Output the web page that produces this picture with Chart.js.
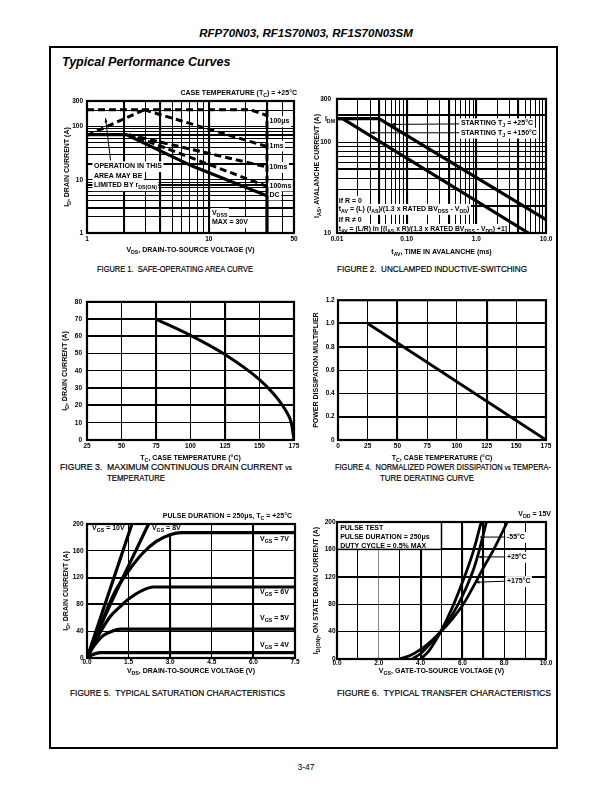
<!DOCTYPE html>
<html>
<head>
<meta charset="utf-8">
<script src="https://cdn.jsdelivr.net/npm/chart.js@4.4.1/dist/chart.umd.min.js"></script>
<style>
body { margin: 0; width: 612px; height: 792px; background: #fff; position: relative; font-family: "Liberation Sans", Arial, sans-serif; color: #000; }
.abs { position: absolute; white-space: nowrap; }
canvas { position: absolute; }
#frame { left: 49px; top: 46px; width: 509px; height: 703px; border: 2.5px solid #000; box-sizing: border-box; }
#head { left: 0; width: 612px; top: 27px; text-align: center; font: italic bold 11.5px "Liberation Sans", Arial, sans-serif; }
#sub { left: 62px; top: 55px; font: italic bold 12.5px "Liberation Sans", Arial, sans-serif; }
#page { left: 0; width: 612px; top: 762px; text-align: center; font-size: 8.5px; }
.cap { font-size: 9.5px; transform-origin: 0 50%; -webkit-text-stroke: 0.2px #000; }
</style>
</head>
<body>
<div id="frame" class="abs"></div>
<div id="head" class="abs">RFP70N03, RF1S70N03, RF1S70N03SM</div>
<div id="sub" class="abs">Typical Performance Curves</div>
<div class="abs cap" data-w="156" style="left:97px;top:263px">FIGURE 1.&nbsp; SAFE-OPERATING AREA CURVE</div>
<div class="abs cap" data-w="190" style="left:337px;top:263px">FIGURE 2.&nbsp; UNCLAMPED INDUCTIVE-SWITCHING</div>
<div class="abs cap" data-w="232" style="left:60px;top:461px">FIGURE 3.&nbsp; MAXIMUM CONTINUOUS DRAIN CURRENT <span style="font-size:7.5px">vs</span></div>
<div class="abs cap" data-w="58" style="left:107px;top:472px">TEMPERATURE</div>
<div class="abs cap" data-w="216" style="left:335px;top:461px">FIGURE 4.&nbsp; NORMALIZED POWER DISSIPATION <span style="font-size:7.5px">vs</span> TEMPERA-</div>
<div class="abs cap" data-w="94" style="left:380px;top:472px">TURE DERATING CURVE</div>
<div class="abs cap" data-w="215" style="left:70px;top:687px">FIGURE 5.&nbsp; TYPICAL SATURATION CHARACTERISTICS</div>
<div class="abs cap" data-w="214" style="left:337px;top:687px">FIGURE 6.&nbsp; TYPICAL TRANSFER CHARACTERISTICS</div>
<div id="page" class="abs">3-47</div>

<script>
// ---- Figure 1: safe operating area (log-log) ----
const soaLimitV = [1, 22, 30];
const soaLimitI = [205, 205, 160];
const soaRdsV = [1, 2.95];
const soaRdsI = [68, 205];
const soa1msV = [2.95, 30];
const soa1msI = [205, 42];
const soa10msV = [2.2, 30];
const soa10msI = [70, 17.3];
const soa100msV = [2.6, 30];
const soa100msI = [62, 7.5];
const soaDcV = [1, 2.1, 7.3, 30, 30];
const soaDcI = [70, 70, 18, 5, 1];
const soaVdssV = [30, 30];
const soaVdssI = [205, 5];
const soaXLabelVals = [1, 10, 50];
const soaYLabelVals = [1, 10, 100, 300];

// ---- Figure 2: unclamped inductive switching ----
const uis25T = [0.01, 0.04, 10];
const uis25I = [182, 182, 14];
const uis150T = [0.01, 0.012, 5.6];
const uis150I = [182, 182, 10];
const uisXLabelVals = [0.01, 0.1, 1, 10];
const uisXLabelText = ['0.01', '0.10', '1.0', '10.0'];
const uisYLabelVals = [10, 100, 300];

// ---- Figure 3: max continuous drain current vs Tc ----
const idTemp = [75, 100, 125, 150, 160, 165, 170, 173, 175];
const idMax = [70, 60.6, 49.5, 35, 27, 22, 15.7, 10, 0];

// ---- Figure 4: power derating ----
const pdTemp = [25, 175];
const pdMult = [1.0, 0];

// ---- Figure 5: saturation characteristics ----
const satV10 = [0, 1.62];
const satI10 = [0, 200];
const satV8 = [0, 0.6, 1.2, 1.7, 2.22];
const satI8 = [0, 58, 112, 155, 200];
const satV7 = [0, 0.5, 1.0, 1.5, 2.0, 2.5, 3.0, 3.4, 7.5];
const satI7 = [0, 50, 98, 130, 156, 174, 184, 187, 187];
const satV6 = [0, 0.5, 0.86, 1.2, 1.5, 2.0, 2.4, 7.5];
const satI6 = [0, 40, 63, 77, 88, 101, 106, 106];
const satV5 = [0, 0.2, 0.4, 0.6, 0.9, 1.2, 7.5];
const satI5 = [0, 15, 26, 34, 40, 43, 43];
const satV4 = [0, 0.15, 0.3, 0.5, 7.5];
const satI4 = [0, 4, 6.5, 8, 8];

// ---- Figure 6: transfer characteristics ----
const trV55 = [4.0, 4.4, 4.7, 5.0, 5.5, 6.0, 6.5, 6.9];
const trI55 = [0, 12, 26, 42, 74, 112, 155, 200];
const trV25 = [3.6, 4.0, 4.5, 5.0, 5.5, 6.0, 6.5, 6.8, 7.15];
const trI25 = [0, 8, 24, 42, 64, 92, 128, 158, 200];
const trV175 = [3.0, 3.5, 4.0, 4.5, 5.0, 5.5, 6.0, 6.6, 7.0, 7.5, 8.15];
const trI175 = [0, 5, 14, 26, 41, 58, 78, 110, 133, 160, 200];

const FAM = '"Liberation Sans", Arial, sans-serif';
const tickFont = {family: FAM, size: 6.5, weight: 'bold'};

function richParts(s) {
    const parts = [];
    const re = /_\{([^}]*)\}/g;
    let last = 0, m;
    while ((m = re.exec(s))) {
        if (m.index > last) parts.push([s.slice(last, m.index), false]);
        parts.push([m[1], true]);
        last = re.lastIndex;
    }
    if (last < s.length) parts.push([s.slice(last), false]);
    return parts;
}

function drawRich(ctx, s, x, y, o) {
    o = o || {};
    const size = o.size || 7;
    const f = sub => 'bold ' + (sub ? size * 0.75 : size) + 'px ' + FAM;
    const parts = richParts(s);
    let w = 0;
    parts.forEach(p => { ctx.font = f(p[1]); p.push(ctx.measureText(p[0]).width); w += p[2]; });
    let sx = o.align === 'right' ? x - w : o.align === 'center' ? x - w / 2 : x;
    if (o.bg) {
        ctx.fillStyle = '#fff';
        ctx.fillRect(sx - 1.5, y - size * 0.72, w + 3, size * 1.55);
    }
    ctx.fillStyle = '#000';
    ctx.textBaseline = 'middle';
    ctx.textAlign = 'left';
    parts.forEach(p => {
        ctx.font = f(p[1]);
        ctx.fillText(p[0], sx, y + (p[1] ? size * 0.35 : 0));
        sx += p[2];
    });
}

const overlay = {
    id: 'overlay',
    beforeDatasetsDraw(chart, args, opts) {
        const {ctx, scales: {x, y}} = chart;
        ctx.save();
        (opts.boxes || []).forEach(b => {
            const x1 = x.getPixelForValue(b.x1), x2 = x.getPixelForValue(b.x2);
            const y1 = y.getPixelForValue(b.y1), y2 = y.getPixelForValue(b.y2);
            ctx.fillStyle = '#fff';
            ctx.fillRect(x1, y2, x2 - x1, y1 - y2);
            ctx.strokeStyle = '#000';
            ctx.lineWidth = 1.5;
            ctx.strokeRect(x1, y2, x2 - x1, y1 - y2);
        });
        (opts.labels || []).forEach(l => {
            const px = x.getPixelForValue(l.x) + (l.dx || 0);
            const py = y.getPixelForValue(l.y) + (l.dy || 0);
            drawRich(ctx, l.t, px, py, l);
        });
        ctx.restore();
    },
    afterDatasetsDraw(chart, args, opts) {
        const {ctx, chartArea: a, scales: {x, y}} = chart;
        ctx.save();
        ctx.strokeStyle = '#000';
        ctx.fillStyle = '#000';
        (opts.arrows || []).forEach(r => {
            const x1 = x.getPixelForValue(r.x1), y1 = y.getPixelForValue(r.y1);
            const x2 = x.getPixelForValue(r.x2), y2 = y.getPixelForValue(r.y2);
            ctx.lineWidth = 1;
            ctx.beginPath(); ctx.moveTo(x1, y1); ctx.lineTo(x2, y2); ctx.stroke();
            const ang = Math.atan2(y2 - y1, x2 - x1);
            ctx.beginPath();
            ctx.moveTo(x2, y2);
            ctx.lineTo(x2 - 4.5 * Math.cos(ang - 0.35), y2 - 4.5 * Math.sin(ang - 0.35));
            ctx.lineTo(x2 - 4.5 * Math.cos(ang + 0.35), y2 - 4.5 * Math.sin(ang + 0.35));
            ctx.closePath(); ctx.fill();
        });
        ctx.lineWidth = 2.2;
        ctx.strokeRect(a.left, a.top, a.right - a.left, a.bottom - a.top);
        (opts.outer || []).forEach(l => {
            const px = x.getPixelForValue(l.x) + (l.dx || 0);
            const py = y.getPixelForValue(l.y) + (l.dy || 0);
            drawRich(ctx, l.t, px, py, l);
        });
        if (opts.xTitle) drawRich(ctx, opts.xTitle, (a.left + a.right) / 2, a.bottom + opts.xTitleOff, {align: 'center'});
        if (opts.yTitle) {
            ctx.translate(a.left - opts.yTitleOff, (a.top + a.bottom) / 2);
            ctx.rotate(-Math.PI / 2);
            drawRich(ctx, opts.yTitle, 0, 0, {align: 'center'});
        }
        ctx.restore();
    }
};
Chart.register(overlay);

function logTicks(min, max) {
    const out = [];
    for (let e = Math.floor(Math.log10(min)); e <= Math.ceil(Math.log10(max)); e++) {
        for (let k = 1; k < 10; k++) {
            const v = +(k * Math.pow(10, e)).toPrecision(6);
            if (v >= min * 0.999 && v <= max * 1.001) out.push(v);
        }
    }
    return out;
}

function near(list, v) {
    return list.some(t => Math.abs(t - v) < 1e-6 * Math.max(1, Math.abs(t)));
}

function gridWidth(thickList) {
    return c => (c.tick && near(thickList, c.tick.value)) ? 2.1 : 1;
}

function series(xs, ys, opt) {
    opt = opt || {};
    return {
        data: xs.map((v, i) => ({x: v, y: ys[i]})),
        showLine: true,
        borderColor: '#000',
        borderWidth: opt.w || 2.8,
        borderDash: opt.dash || [],
        pointRadius: 0,
        tension: opt.smooth ? 0.4 : 0,
        cubicInterpolationMode: opt.smooth ? 'monotone' : 'default',
        fill: false
    };
}

function axis(box, isX, o) {
    const s = {
        type: o.type || 'linear',
        position: isX ? 'bottom' : 'left',
        min: o.min,
        max: o.max,
        border: {display: false},
        grid: {color: o.gridColor || '#000', lineWidth: gridWidth(o.thick || []), drawTicks: false},
        ticks: {
            font: tickFont, color: '#000', padding: o.pad, maxRotation: 0, autoSkip: false,
            callback: o.label
        },
        afterFit: sc => { if (isX) sc.height = box.xH; else sc.width = box.yW; }
    };
    if (o.step) s.ticks.stepSize = o.step;
    if (o.tickVals) s.afterBuildTicks = sc => { sc.ticks = o.tickVals.map(v => ({value: v})); };
    return s;
}

function makeChart(box, datasets, xo, yo, ov) {
    const c = document.createElement('canvas');
    c.width = box.yW + box.W + box.padR;
    c.height = box.padT + box.H + box.xH;
    c.style.left = (box.L - box.yW) + 'px';
    c.style.top = (box.T - box.padT) + 'px';
    document.body.appendChild(c);
    return new Chart(c.getContext('2d'), {
        type: 'scatter',
        data: {datasets: datasets},
        options: {
            responsive: false,
            animation: false,
            events: [],
            layout: {padding: {top: box.padT, right: box.padR, left: 0, bottom: 0}},
            plugins: {legend: {display: false}, tooltip: {enabled: false}, overlay: ov},
            scales: {x: axis(box, true, xo), y: axis(box, false, yo)}
        }
    });
}

const dash = [7, 4];

// Figure 1
const b1 = {L: 87, T: 101, W: 207, H: 132, yW: 34, padT: 14, padR: 14, xH: 26};
makeChart(b1, [
    series(soaLimitV, soaLimitI, {dash: dash, w: 3}),
    series(soaRdsV, soaRdsI, {dash: dash, w: 3}),
    series(soa1msV, soa1msI, {dash: dash, w: 3}),
    series(soa10msV, soa10msI, {dash: dash, w: 3}),
    series(soa100msV, soa100msI, {dash: dash, w: 3}),
    series(soaVdssV, soaVdssI, {dash: dash, w: 3}),
    series(soaDcV, soaDcI, {w: 3.2})
], {type: 'logarithmic', min: 1, max: 50, pad: 2, tickVals: logTicks(1, 50), thick: [2, 4, 10, 30],
    label: v => soaXLabelVals.includes(v) ? String(v) : ''},
   {type: 'logarithmic', min: 1, max: 300, pad: 4, tickVals: logTicks(1, 300), thick: [3, 8, 20, 70],
    label: v => soaYLabelVals.includes(v) ? String(v) : ''},
   {
    xTitle: 'V_{DS}, DRAIN-TO-SOURCE VOLTAGE (V)', xTitleOff: 17,
    yTitle: 'I_{D}, DRAIN CURRENT (A)', yTitleOff: 20,
    labels: [
        {x: 1.14, y: 17.8, t: 'OPERATION IN THIS', bg: true},
        {x: 1.14, y: 11.7, t: 'AREA MAY BE', bg: true},
        {x: 1.14, y: 7.85, t: 'LIMITED BY r_{DS(ON)}', bg: true},
        {x: 10.6, y: 2.37, t: 'V_{DSS}', bg: true},
        {x: 10.6, y: 1.59, t: 'MAX = 30V', bg: true},
        {x: 31.5, y: 125, t: '100\u03bcs', bg: true},
        {x: 31.5, y: 43.6, t: '1ms', bg: true},
        {x: 31.5, y: 17.3, t: '10ms', bg: true},
        {x: 31.5, y: 7.75, t: '100ms', bg: true},
        {x: 31.5, y: 5.25, t: 'DC', bg: true}
    ],
    arrows: [{x1: 1.56, y1: 23, x2: 1.42, y2: 143}],
    outer: [{x: 50, y: 300, dx: 3, dy: -7.5, t: 'CASE TEMPERATURE (T_{C}) = +25\u00b0C', align: 'right'}]
});

// Figure 2
const b2 = {L: 337, T: 97, W: 209, H: 136, yW: 34, padT: 8, padR: 10, xH: 26};
makeChart(b2, [
    series(uis25T, uis25I, {w: 3.2}),
    series(uis150T, uis150I, {w: 3.2})
], {type: 'logarithmic', min: 0.01, max: 10, pad: 2, tickVals: logTicks(0.01, 10), thick: [0.04, 0.1, 0.4, 1, 4],
    label: v => { const i = uisXLabelVals.findIndex(t => near([t], v)); return i >= 0 ? uisXLabelText[i] : ''; }},
   {type: 'logarithmic', min: 10, max: 300, pad: 6, tickVals: logTicks(10, 300), thick: [20, 50, 200],
    label: v => uisYLabelVals.includes(v) ? String(v) : ''},
   {
    xTitle: 't_{AV}, TIME IN AVALANCHE (ms)', xTitleOff: 19,
    yTitle: 'I_{AS}, AVALANCHE CURRENT (A)', yTitleOff: 19.6,
    labels: [
        {x: 0.0106, y: 22.6, t: 'If R = 0', bg: true},
        {x: 0.0106, y: 18.4, t: 't_{AV} = (L) (I_{AS})/(1.3 x RATED BV_{DSS} - V_{DD})', bg: true},
        {x: 0.0106, y: 13.95, t: 'If R \u2260 0', bg: true},
        {x: 0.0106, y: 11.1, t: 't_{AV} = (L/R) ln [(I_{AS} x R)/(1.3 x RATED BV_{DSS} - V_{DD}) +1]', bg: true, size: 6.8},
        {x: 0.6, y: 161, t: 'STARTING T_{J} = +25\u00b0C', bg: true},
        {x: 0.6, y: 127, t: 'STARTING T_{J} = +150\u00b0C', bg: true}
    ],
    arrows: [
        {x1: 0.57, y1: 159, x2: 0.059, y2: 157},
        {x1: 0.57, y1: 127, x2: 0.030, y2: 127}
    ],
    outer: [{x: 0.01, y: 182, dx: -2, t: 'I_{DM}', align: 'right'}]
});

// Figure 3
const b3 = {L: 87, T: 299, W: 207, H: 141, yW: 34, padT: 6, padR: 8, xH: 26};
makeChart(b3, [series(idTemp, idMax, {w: 3, smooth: true})],
   {min: 25, max: 175, step: 25, pad: 2, thick: [75, 125], label: v => String(v)},
   {min: 0, max: 80, step: 10, pad: 5, thick: [20, 30, 60, 70], label: v => String(v)},
   {xTitle: 'T_{C}, CASE TEMPERATURE (\u00b0C)', xTitleOff: 18.3,
    yTitle: 'I_{D}, DRAIN CURRENT (A)', yTitleOff: 21.7});

// Figure 4
const b4 = {L: 338, T: 299, W: 208, H: 141, yW: 34, padT: 6, padR: 8, xH: 26};
makeChart(b4, [series(pdTemp, pdMult, {w: 2.8})],
   {min: 0, max: 175, step: 25, pad: 2, thick: [50, 125], label: v => String(v)},
   {min: 0, max: 1.2, step: 0.2, pad: 3.3, thick: [0.2, 0.8, 1.0], label: v => v === 0 ? '0' : v.toFixed(1)},
   {xTitle: 'T_{C}, CASE TEMPERATURE (\u00b0C)', xTitleOff: 18.3,
    yTitle: 'POWER DISSIPATION MULTIPLIER', yTitleOff: 21.6});

// Figure 5
const b5 = {L: 87, T: 524, W: 208, H: 134, yW: 34, padT: 14, padR: 8, xH: 20};
makeChart(b5, [
    series(satV10, satI10, {w: 3.2}),
    series(satV8, satI8, {w: 3.2, smooth: true}),
    series(satV7, satI7, {w: 3.2, smooth: true}),
    series(satV6, satI6, {w: 3.2, smooth: true}),
    series(satV5, satI5, {w: 3.2, smooth: true}),
    series(satV4, satI4, {w: 3.2, smooth: true})
], {min: 0, max: 7.5, step: 1.5, pad: 0, thick: [3, 6], label: v => v.toFixed(1)},
   {min: 0, max: 200, step: 40, pad: 3.4, thick: [80, 120], label: v => String(v)},
   {
    xTitle: 'V_{DS}, DRAIN-TO-SOURCE VOLTAGE (V)', xTitleOff: 13.4,
    yTitle: 'I_{D}, DRAIN CURRENT (A)', yTitleOff: 20.7,
    labels: [
        {x: 0.18, y: 194, t: 'V_{GS} = 10V', bg: true},
        {x: 2.34, y: 194, t: 'V_{GS} = 8V', bg: true},
        {x: 6.24, y: 178, t: 'V_{GS} = 7V', bg: true},
        {x: 6.24, y: 98.5, t: 'V_{GS} = 6V', bg: true},
        {x: 6.24, y: 59.7, t: 'V_{GS} = 5V', bg: true},
        {x: 6.24, y: 19.9, t: 'V_{GS} = 4V', bg: true}
    ],
    outer: [{x: 7.5, y: 200, dx: -3, dy: -7.6, t: 'PULSE DURATION = 250\u03bcs, T_{C} = +25\u00b0C', align: 'right'}]
});

// Figure 6
const b6 = {L: 337, T: 522, W: 209, H: 137, yW: 34, padT: 14, padR: 12, xH: 20};
makeChart(b6, [
    series(trV55, trI55, {w: 2.8, smooth: true}),
    series(trV25, trI25, {w: 2.8, smooth: true}),
    series(trV175, trI175, {w: 2.8, smooth: true})
], {min: 0, max: 10, step: 1, pad: 0, thick: [4, 6, 7], gridColor: c => (c.tick && c.tick.value === 2) ? '#888' : '#000',
    label: v => v % 2 === 0 ? v.toFixed(1) : ''},
   {min: 0, max: 200, step: 40, pad: 1.5, thick: [120, 160], label: v => String(v)},
   {
    xTitle: 'V_{GS}, GATE-TO-SOURCE VOLTAGE (V)', xTitleOff: 11.7,
    yTitle: 'I_{D(ON)}, ON STATE DRAIN CURRENT (A)', yTitleOff: 20.6,
    boxes: [{x1: 0, y1: 160, x2: 5, y2: 200}],
    labels: [
        {x: 0.15, y: 191, t: 'PULSE TEST'},
        {x: 0.15, y: 177.7, t: 'PULSE DURATION = 250\u03bcs'},
        {x: 0.15, y: 164.5, t: 'DUTY CYCLE = 0.5% MAX'},
        {x: 8.13, y: 178, t: '-55\u00b0C', bg: true},
        {x: 8.13, y: 149, t: '+25\u00b0C', bg: true},
        {x: 8.13, y: 113.6, t: '+175\u00b0C', bg: true}
    ],
    arrows: [
        {x1: 8.05, y1: 178, x2: 6.85, y2: 178},
        {x1: 8.05, y1: 149, x2: 6.77, y2: 149},
        {x1: 8.05, y1: 113.6, x2: 6.61, y2: 112}
    ],
    outer: [{x: 10, y: 200, dx: 5, dy: -7.7, t: 'V_{DD} = 15V', align: 'right'}]
});

// squeeze captions to the widths of the original narrow typeface
document.querySelectorAll('.cap').forEach(el => {
    const w = el.getBoundingClientRect().width;
    el.style.transform = 'scaleX(' + (parseFloat(el.dataset.w) / w) + ')';
});
</script>
</body>
</html>
